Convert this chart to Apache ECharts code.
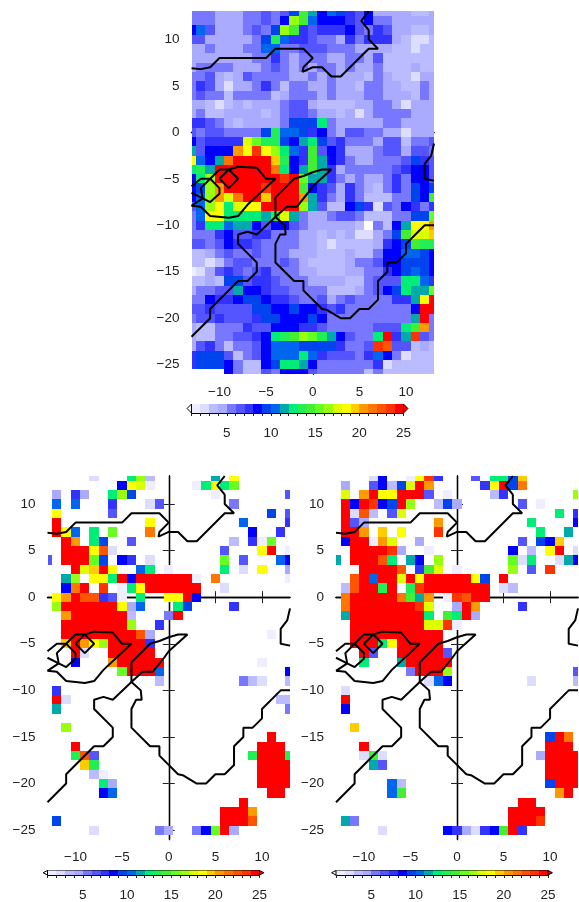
<!DOCTYPE html>
<html><head><meta charset="utf-8">
<style>html,body{margin:0;padding:0;background:#fff;overflow:hidden}#c{width:579px;height:902px}</style>
<script src="https://cdn.jsdelivr.net/npm/echarts@6/dist/echarts.min.js"></script>
</head><body><div id="c"></div>
<script>
// colour classes: class k covers values k..k+1 (k = 1..24)
const palette = ['#EEEEFF','#DDDDFF','#BBBBFF','#AAAAFF','#7777FF','#5555FF','#3333FF','#0000FF','#0044EE','#0066EE','#00AAAA','#00EE77','#22EE55','#44EE33','#66FF22','#99FF11','#DDFF00','#FFFF00','#FFCC00','#FF9900','#FF7700','#FF5500','#FF3300','#FF0000'];
const xTicks = [-10,-5,0,5,10];
const yTicks = [10,5,0,-5,-10,-15,-20,-25];
const barTicks = [5,10,15,20,25];

// top panel, rows y = 13 .. -26, columns x = -13 .. 13 (class code base 36, '.' = below 1)
const topRows = [
"555444 55656 9eb8a 97684 444334",
"555444 55658 gea88 87685 544444",
"8a6444 5659g e7677 78657 644334",
"664444 459da 77655 47577 743223",
"445444 55aa5 56665 55444 433233",
"444444 45575 45554 45546 333333",
"455554 44565 45455 45445 333433",
"556434 65555 44545 44435 433244",
"576424 45753 55445 44355 443354",
"565535 55534 55545 44455 444354",
"443234 34445 66433 33445 542444",
"453344 44345 66544 34245 555444",
"776543 44445 999c5 44444 554444",
"656655 559da a9785 46655 442444",
"867777 hfdd9 8bc96 75554 663556",
"b6888k inigc a7e68 74445 664665",
"ia8blo ooojd 87eb8 75445 556976",
"cdbooo ooolc 8beb7 45555 567886",
"8cgooo oooon ofbb7 54544 575886",
"89gkoo oonoo oe876 47543 575989",
"8agkhl oojoo okb75 47533 35598e",
"6agich iiooo ogb63 38972 658757",
"5aiicc ccbdh b5445 66533 35599f",
"57ccab b8688 65444 443.5 38biik",
"555786 67755 54434 34224 59ehhj",
"665687 76555 54432 33334 789edd",
"334565 56555 44433 34335 88aa98",
"332356 65556 54333 34556 889998",
"124676 56755 54433 34455 789a98",
"334399 67765 55444 43356 66cca7",
"45566b 88766 55553 33456 89cbbf",
"558778 99877 65564 56555 577bio",
"667666 69988 98876 75555 5558oo",
"566766 67998 88985 55555 555bo5",
"433555 76688 87765 55556 66cek5",
"433556 678cd egfdb 8655c o7bn65",
"467535 568aa a9999 7556n m66343",
"799963 568aa aca76 6657a 852333",
"799985 3389c cb855 55557 233333",
"....85 33658 88655 55535 333333"
];

// lower-left panel: "y: x=code" or "y: x1..x2=code"
const leftRows = [
"13: -8=2 -4=c -3=g -2=3 5=b 7=i",
"12: -5=8 -4=i -3=h -2=1 3=1 4=c 5=i 6=c 7=f",
"11: -12=4 -10=7 -9=4 -6=c -5=g -4=9 5=1 13=6",
"10: -12=a -10=a -6=7 -2=2 -1=6 7=5",
"9: -12=i -6=6 11=9 13=6",
"8: -12=o -2=i 8=a 13=7",
"7: -12=o -11=i -10=a -8=c -6=f -2=l 9=8 12=7",
"6: -11=o -10=k -8=c -7=9 -4=6 7=3 9=7 10=1 11=f",
"5: -11..-9=o -8=i -7=m -6=2 6=6 10=i 11=o 13=1",
"4: -13=6 -11..-9=o -8=f -7=9 -5=8 -4=7 -2=2 6=f 8=6 12=a 13=8",
"3: -10=o -9=h -8=j -7=o -6=i -3=a -2=c 0=1 6=c 8=2 10=i 13=4",
"2: -11=b -10=g -8=i -7=i -6=c -5=o -4=8 -3..2=o 3=1 5=l 13=1",
"1: -11=8 -10=l -9=o -7=n -5=1 -4=c -3=i -2..3=o 6=2",
"0: -12=i -11=k -10=o -9=m -8=m -7=7 -6=6 -5=1 -3=c 0=i 1=i 2=o 3=8",
"-1: -12=g -11..-6=o -5=i -4=4 -3=a 1=c 2=9 7=7",
"-2: -11=k -10..-5=o -4=3 0=5 1=o",
"-3: -11..-5=o -4=g -1=7",
"-4: -11..-4=o -3=m -2=4 11=1",
"-5: -11=j -10=o -9=k -8=i -7=g -6..-3=o -2=7",
"-6: -10=o -9=2 -6..-2=o",
"-7: -10=8 -6=k -5..-1=o 10=1",
"-8: -5=f -4..-2=o -1=a 13=8",
"-9: -1=3 8=5 9=3 10=2 13=3",
"-10: -12=7",
"-11: -12=o -11=2 12=3 13=3",
"-12: -12=b 13=5",
"-14: -11=g",
"-15: 11=o",
"-16: -10=o 10..12=o",
"-17: -10=d -9=m -8=6 9=d 10..12=o 13=d",
"-18: -9=j -8=d 10..13=o",
"-19: -8=3 -7=1 10..13=o",
"-20: -7=c -6=4 10..13=o",
"-21: -7=8 -6=a 11..12=o",
"-22: 8=o",
"-23: 6..8=o 9=k",
"-24: -12=9 6..8=o 9=m",
"-25: -8=2 -1=5 0=4 3=5 4=8 5=f 6=o 7=4"
];

// lower-right panel
const rightRows = [
"13: -9=2 -8=8 -5=1 -4=i -3=n -2=7 2=6 4=c 5=c 6=9 7=j",
"12: -12=4 -9=6 -8=8 -7=3 -6=9 -5=h -4=o -3=k 3=7 4=i 5=o 6=9 7=l",
"11: -12=h -10=k -9=o -8=i -7=i -6..-4=o -3=6 -1=1 4=3 5=7 13=g",
"10: -12=o -11=8 -10=o -9=n -8=8 -7=9 -6=o -5=g -2=3 -1=9 0=4 7=6 9=1",
"9: -12=o -11=2 -10=m -9=3 -7=6 -6=h 11=c 13=7",
"8: -12=o -11=6 -10=4 -2=k 8=c 13=8",
"7: -12=o -11=o -10=k -8=j -6=i -2=n 9=c 12=b",
"6: -12=8 -11=o -10=o -9=1 -8=k -7=h -4=4 7=6 9=9 10=8 11=j",
"5: -11..-8=o -7=n -6=4 -3=1 6=8 8=3 10=i 11=o 13=2",
"4: -13=b -11..-9=o -8=m -7=c -5=b -4=8 -2=g 6=f 7=2 8=c 11=2 12=b 13=8",
"3: -10..-7=o -6=m -4=7 -3=e -2=h 0=1 6=g 8=6 10=n",
"2: -11=m -10=o -9=a -8=o -7=o -6=h -5=o -4=i -3..1=o 2=i 3=9 5=o",
"1: -12=3 -11=m -10=o -9=o -8=d -7=o -5=d -4=n -3..3=o 5=2 6=3",
"0: -12=l -11..-7=o -6=l -5=e -4=b -3=k -1=1 0=n 1=m 2=o 3=o",
"-1: -12=l -11..-5=o -4=n -3=h 0=4 1=o 2=k 7=7",
"-2: -12=b -11..-4=o -3=c -1=e 0=c 1=o 2=4",
"-3: -11..-4=o -3=h -2=h -1=n 0=1",
"-4: -11..-2=o",
"-5: -11..-9=o -8=c -7=i -6..-2=o",
"-6: -10=o -9=6 -6..-2=o -1=6",
"-7: -10=c -6=b -5..-1=o",
"-8: -5=5 -4..-2=o -1=g 13=6",
"-9: -3=2 -2=a -1=8 8=2 13=3",
"-10: -12=2",
"-11: -12=o",
"-12: -12=8",
"-14: -11=j",
"-15: 10=9 11=o 12=l",
"-16: -10=o 10..12=o",
"-17: -10=2 -9=e -8=2 9=4 10..13=o",
"-18: -9=b -8=6 10..13=o",
"-19: 10..13=o",
"-20: -7=a -6=3 10=9 11..13=o",
"-21: -7=a -6=e 11=k 12=o",
"-22: 7=o 8=o",
"-23: 6..9=o",
"-24: -12=b -11=5 6..8=o 9=n",
"-25: -8=2 -1=8 0=7 1=4 2=2 3=7 4=8 5=e 6=o 7=7"
];

// coastline polylines, [longitude, latitude]
const coastNorth = [[-13,6.9],[-12,6.8],[-11,7],[-10,8],[-5,8],[-4,9],[-1,9],[0,8],[-1,7],[-1.1,6.5],[0,7],[1,7],[2,6],[3,6],[6,9],[7,9],[6,10],[6,11],[5.2,12],[6,13]];
const coastGulfA = [[-13,-5.8],[-12,-5],[-11,-5],[-10,-4],[-9,-4],[-8,-3.7],[-6,-3.8],[-5,-5],[-4,-5],[-7,-7.8],[-8,-9],[-9,-9.2],[-11,-9],[-12,-8],[-13,-7.9]];
const coastHex = [[-11,-5],[-10,-6],[-10,-6.6],[-11,-7.5],[-11.8,-7.1],[-12,-6],[-11,-5]];
const coastLeftStub = [[-13,-6.5],[-11.8,-7.1],[-13,-7.9]];
const coastDiamond = [[-10,-5],[-9,-4],[-8,-5],[-9,-6],[-10,-5]];
const coastGulfB = [[-4,-9.1],[-4,-7],[-3,-6],[-2,-5],[-1,-4.7],[0,-4.3],[1,-4],[2,-4],[0,-5.8],[-0.5,-6.5],[-1.7,-8],[-2.8,-8],[-4,-9.1]];
const coastSouthWest = [[-4,-9.1],[-6,-11],[-7,-10.7],[-8,-11],[-8,-12],[-6,-14],[-6,-15],[-7,-16],[-8,-16],[-11,-19],[-11,-20],[-13,-22]];
const coastSouthEast = [[-4,-9.1],[-3,-10],[-2.9,-11],[-3.5,-11],[-4,-12],[-4,-14],[-2,-16],[-1,-16],[-1,-17],[1,-19],[1.5,-19.1],[3,-20],[4,-20],[5,-19],[6,-19],[7,-18],[7,-16],[8,-15],[8,-14],[9,-14],[10,-13],[10,-12],[12,-10],[13,-10]];
const coastEast = [[13,-1.2],[12.7,-2.5],[12,-3.4],[12,-5],[13,-5.2]];
const coasts = [coastNorth,coastGulfA,coastHex,coastLeftStub,coastDiamond,coastGulfB,coastSouthWest,coastSouthEast,coastEast];

function fromDense(rows){
  const out=[];
  rows.forEach((r,i)=>{const y=13-i;const s=r.replace(/\s/g,'');
    for(let k=0;k<s.length;k++){if(s[k]!=='.')out.push([k-13,y,parseInt(s[k],36)+0.5]);}
  });
  return out;
}
function fromSparse(rows){
  const out=[];
  rows.forEach(r=>{const p=r.indexOf(':');const y=+r.slice(0,p);
    r.slice(p+1).trim().split(/\s+/).forEach(t=>{
      const m=t.match(/^(-?\d+)(?:\.\.(-?\d+))?=(\w)$/);
      const a=+m[1],b=m[2]===undefined?a:+m[2];
      for(let x=a;x<=b;x++)out.push([x,y,parseInt(m[3],36)+0.5]);
    });
  });
  return out;
}
const minus=v=>String(v).replace('-','\u2212');
const FONT={fontFamily:'"Liberation Sans",Arial,sans-serif',fontSize:13.5,color:'#222'};
const panels=[
  {data:fromDense(topRows),left:191.5,top:11.5,w:242.5,h:362.5,barLeft:191.5,barTop:404,yLabels:true},
  {data:fromSparse(leftRows),left:47.5,top:476,w:242.5,h:363.5,barLeft:47.5,barTop:870.5},
  {data:fromSparse(rightRows),left:336,top:476,w:242,h:363.5,barLeft:336,barTop:870.5}
];
const grid=[],xAxis=[],yAxis=[],series=[];
const line={show:true,lineStyle:{color:'#000',width:1.3}};
const tick={length:6,lineStyle:{color:'#222',width:1}};
function renderCell(params,api){
  const x=api.value(0),y=api.value(1),v=api.value(2);
  const a=api.coord([Math.max(x-.5,-13),Math.min(y+.5,13)]);
  const b=api.coord([Math.min(x+.5,13),Math.max(y-.5,-26)]);
  const x0=Math.round(a[0]),y0=Math.round(a[1]),x1=Math.round(b[0]),y1=Math.round(b[1]);
  return {type:'rect',shape:{x:x0,y:y0,width:x1-x0,height:y1-y0},style:{fill:palette[Math.floor(v)-1]}};
}
function renderBar(params,api){
  const k=api.value(0);
  const a=api.coord([k,1]),b=api.coord([k+1,0]);
  const x0=Math.round(a[0]),x1=Math.round(b[0]);
  return {type:'rect',shape:{x:x0,y:a[1],width:x1-x0,height:b[1]-a[1]},style:{fill:palette[k-1]}};
}
function renderEnd(params,api){
  const side=api.value(0);
  const base=side<0?1:25,tip=side<0?0.5:25.5;
  const t=api.coord([base,1]),m=api.coord([tip,0.5]),d=api.coord([base,0]);
  return {type:'polygon',shape:{points:[t,m,d]},style:{fill:side<0?'#fff':'#FF0000',stroke:'#000',lineWidth:1}};
}
const barClasses=palette.map((c,i)=>[i+1]);
const allTicks=palette.map((c,i)=>i+1).concat([25]);
panels.forEach((p,i)=>{
  const g=grid.length;
  grid.push({left:p.left,top:p.top,width:p.w,height:p.h,containLabel:false});
  const xi=xAxis.length,yi=yAxis.length;
  xAxis.push({type:'value',gridIndex:g,position:'bottom',min:-13,max:13,splitLine:{show:false},axisLine:line,
    axisTick:{...tick,customValues:xTicks},axisLabel:{...FONT,margin:11,customValues:xTicks,formatter:minus}});
  xAxis.push({type:'value',gridIndex:g,position:'top',min:-13,max:13,splitLine:{show:false},axisLine:line,
    axisTick:{...tick,customValues:xTicks},axisLabel:{show:false}});
  yAxis.push({type:'value',gridIndex:g,position:'left',min:-26,max:13,splitLine:{show:false},axisLine:line,
    axisTick:{...tick,customValues:yTicks},axisLabel:{...FONT,margin:12,customValues:yTicks,formatter:minus}});
  yAxis.push({type:'value',gridIndex:g,position:'right',min:-26,max:13,splitLine:{show:false},axisLine:line,
    axisTick:{...tick,customValues:yTicks},axisLabel:{show:false}});
  series.push({type:'custom',xAxisIndex:xi,yAxisIndex:yi,data:p.data,renderItem:renderCell,encode:{x:0,y:1},silent:true,z:2,animation:false});
  coasts.forEach(c=>series.push({type:'line',xAxisIndex:xi,yAxisIndex:yi,data:c,symbol:'none',clip:true,z:3,silent:true,animation:false,
    lineStyle:{color:'#000',width:2},itemStyle:{color:'#000'}}));
  // colour key
  const gb=grid.length;
  grid.push({left:p.barLeft,top:p.barTop,width:212,height:9,show:false});
  const bxi=xAxis.length,byi=yAxis.length;
  xAxis.push({type:'value',gridIndex:gb,position:'bottom',min:1,max:25,interval:1,splitLine:{show:false},
    axisLine:{show:true,lineStyle:{color:'#000',width:1}},
    axisTick:{length:3,lineStyle:{color:'#222',width:1},customValues:allTicks},
    axisLabel:{...FONT,margin:13,customValues:barTicks,formatter:minus}});
  xAxis.push({type:'value',gridIndex:gb,position:'top',min:1,max:25,interval:1,splitLine:{show:false},
    axisLine:{show:true,lineStyle:{color:'#000',width:1}},axisTick:{show:false},axisLabel:{show:false}});
  yAxis.push({type:'value',gridIndex:gb,min:0,max:1,show:false});
  series.push({type:'custom',xAxisIndex:bxi,yAxisIndex:byi,data:barClasses,renderItem:renderBar,encode:{x:0},silent:true,z:2,animation:false});
  series.push({type:'custom',xAxisIndex:bxi,yAxisIndex:byi,data:[[-1],[1]],renderItem:renderEnd,encode:{x:0},silent:true,clip:false,z:3,animation:false});
});
const chart=echarts.init(document.getElementById('c'),null,{renderer:'canvas',width:579,height:902});
chart.setOption({animation:false,backgroundColor:'#fff',grid,xAxis,yAxis,series,tooltip:{show:false}});
</script></body></html>
